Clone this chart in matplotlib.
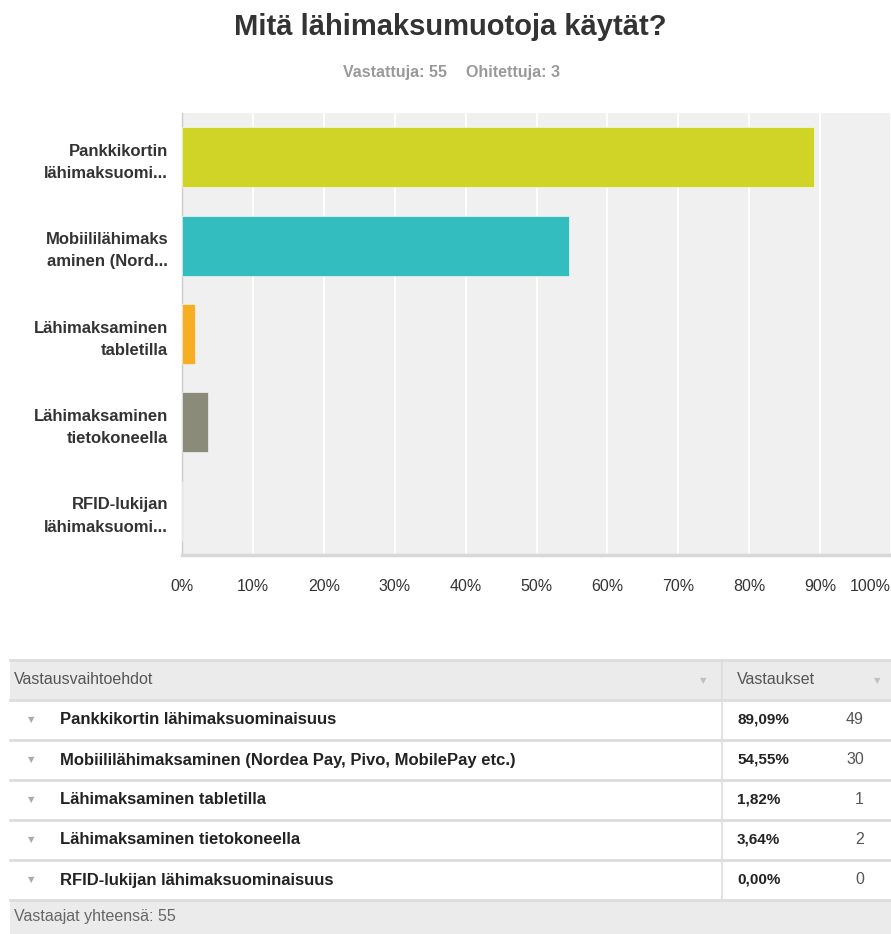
import matplotlib
matplotlib.use("Agg")
import matplotlib.pyplot as plt
from matplotlib.patches import Rectangle

plt.rcParams['font.family'] = ['Liberation Sans', 'DejaVu Sans']

# Survey question and results
title = "Mitä lähimaksumuotoja käytät?"
answered = 55
skipped = 3
axis_labels = [
    "Pankkikortin\nlähimaksuomi...",
    "Mobiililähimaks\naminen (Nord...",
    "Lähimaksaminen\ntabletilla",
    "Lähimaksaminen\ntietokoneella",
    "RFID-lukijan\nlähimaksuomi...",
]
full_labels = [
    "Pankkikortin lähimaksuominaisuus",
    "Mobiililähimaksaminen (Nordea Pay, Pivo, MobilePay etc.)",
    "Lähimaksaminen tabletilla",
    "Lähimaksaminen tietokoneella",
    "RFID-lukijan lähimaksuominaisuus",
]
percents = [89.09, 54.55, 1.82, 3.64, 0.00]
counts = [49, 30, 1, 2, 0]
bar_colors = ["#d0d426", "#33bdbf", "#f7ae22", "#8b8b7a", "#d0d426"]
x_ticks = [0, 10, 20, 30, 40, 50, 60, 70, 80, 90, 100]

W, H = 891, 934
fig = plt.figure(figsize=(W / 100, H / 100), dpi=100)

# Bar chart area (pixel bounds converted to figure fractions)
left_px, right_px, top_px, bottom_px = 182, 891, 113, 555
ax = fig.add_axes([left_px / W, 1 - bottom_px / H,
                   (right_px - left_px) / W, (bottom_px - top_px) / H])
ax.set_facecolor("#f0f0f0")
ypos = list(range(len(percents)))
ax.barh(ypos, percents, height=0.68, color=bar_colors,
        edgecolor="#ffffff", linewidth=0.4, zorder=3)
ax.set_xlim(0, 100)
ax.set_ylim(len(percents) - 0.5, -0.5)
ax.set_xticks(x_ticks)
ax.set_xticklabels([f"{t}%" for t in x_ticks], fontsize=11.5, color="#333333")
ax.get_xticklabels()[-1].set_ha("right")
ax.set_yticks(ypos)
ax.set_yticklabels(axis_labels, fontsize=12, fontweight="bold",
                   color="#333333", linespacing=1.6)
ax.tick_params(axis="both", length=0)
ax.tick_params(axis="x", pad=17)
ax.tick_params(axis="y", pad=10)
ax.grid(axis="x", color="white", linewidth=1.3, zorder=1)
ax.set_axisbelow(True)
for side in ("top", "right"):
    ax.spines[side].set_visible(False)
ax.spines["left"].set_color("#cccccc")
ax.spines["left"].set_linewidth(1.0)
ax.spines["bottom"].set_color("#d8d8d8")
ax.spines["bottom"].set_linewidth(2.5)

# Overlay in pixel coordinates for title and the results table
ov = fig.add_axes([0, 0, 1, 1], zorder=5)
ov.set_xlim(0, W)
ov.set_ylim(H, 0)
ov.axis("off")
ov.patch.set_alpha(0)

ov.text(450, 27, title, ha="center", va="center", fontsize=21,
        fontweight="bold", color="#333333")
ov.text(447, 73, f"Vastattuja: {answered}", ha="right", va="center",
        fontsize=11.5, fontweight="bold", color="#999999")
ov.text(466, 73, f"Ohitettuja: {skipped}", ha="left", va="center",
        fontsize=11.5, fontweight="bold", color="#999999")

# Table geometry
t_left, t_right, col_x = 10, 891, 722
header_top, header_bot = 660, 700
row_h = 40
rows_bot = header_bot + row_h * len(full_labels)
footer_bot = 934
line_c = "#dddddd"

ov.add_patch(Rectangle((t_left, header_top), t_right - t_left,
                       header_bot - header_top, facecolor="#ebebeb",
                       edgecolor="none"))
ov.add_patch(Rectangle((t_left, rows_bot), t_right - t_left,
                       footer_bot - rows_bot, facecolor="#ebebeb",
                       edgecolor="none"))
ov.plot([t_left, t_right], [header_top, header_top], color=line_c, lw=2)
ov.plot([t_left, t_right], [header_bot, header_bot], color=line_c, lw=2)
for i in range(1, len(full_labels) + 1):
    y = header_bot + row_h * i
    ov.plot([t_left, t_right], [y, y], color=line_c, lw=2)
ov.plot([col_x, col_x], [header_top, rows_bot], color=line_c, lw=1.2)

hy = (header_top + header_bot) / 2
ov.text(14, hy, "Vastausvaihtoehdot", ha="left", va="center",
        fontsize=11.5, color="#555555")
ov.text(737, hy, "Vastaukset", ha="left", va="center",
        fontsize=11.5, color="#555555")
ov.text(703, hy + 1, "▼", ha="center", va="center", fontsize=6,
        color="#c0c0c0", family=["DejaVu Sans"])
ov.text(877, hy + 1, "▼", ha="center", va="center", fontsize=6,
        color="#c0c0c0", family=["DejaVu Sans"])

for i, (lab, pct, cnt) in enumerate(zip(full_labels, percents, counts)):
    cy = header_bot + row_h * i + row_h / 2
    ov.text(31, cy, "▼", ha="center", va="center", fontsize=6,
            color="#aaaaaa", family=["DejaVu Sans"])
    ov.text(60, cy, lab, ha="left", va="center", fontsize=12,
            fontweight="bold", color="#222222")
    ov.text(737, cy, f"{pct:.2f}%".replace(".", ","), ha="left",
            va="center", fontsize=11, fontweight="bold", color="#222222")
    ov.text(864, cy, str(cnt), ha="right", va="center", fontsize=11.5,
            color="#555555")

ov.text(14, (rows_bot + footer_bot) / 2, f"Vastaajat yhteensä: {answered}",
        ha="left", va="center", fontsize=11.5, color="#666666")

fig.savefig("out.png", dpi=100)
